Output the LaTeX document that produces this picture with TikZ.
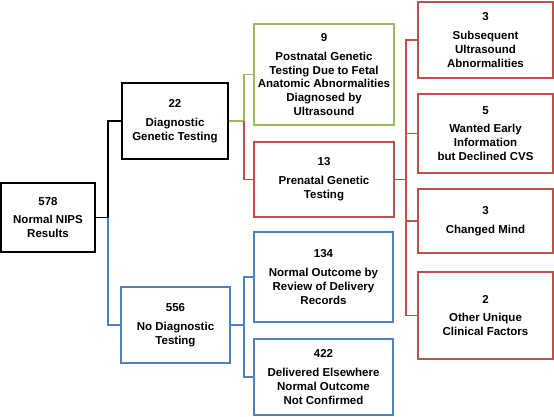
\documentclass[tikz,border=0pt]{standalone}
\usepackage{fontspec}
\setmainfont{Liberation Sans}
\definecolor{cgreen}{HTML}{9BBB59}
\definecolor{cred}{HTML}{C0504D}
\definecolor{cblue}{HTML}{4F81BD}
\begin{document}
\begin{tikzpicture}[x=1pt,y=-1pt,
  box/.style={draw=#1,line width=1.6pt,align=center,inner sep=0pt,
    font=\fontsize{11.5}{13.8}\selectfont\bfseries,text=black},
  conn/.style={line width=1.6pt}]
\useasboundingbox (0,0) rectangle (554,417);
\node[box=black,minimum width=94pt,minimum height=69pt] (n578) at (48,217.5) {578\\[5pt]Normal NIPS\\Results};
\node[box=black,minimum width=106pt,minimum height=76pt] (n22) at (175,121) {22\\[5pt]Diagnostic\\Genetic Testing};
\node[box=cgreen,minimum width=140pt,minimum height=101pt] (n9) at (324,74.5) {9\\[5pt]Postnatal Genetic\\Testing Due to Fetal\\Anatomic Abnormalities\\Diagnosed by\\Ultrasound};
\node[box=cred,minimum width=140pt,minimum height=75pt] (n13) at (324,179.5) {13\\[5pt]Prenatal Genetic\\Testing};
\node[box=cred,minimum width=135pt,minimum height=76pt] (r1) at (485.5,40) {3\\[5pt]Subsequent\\Ultrasound\\Abnormalities};
\node[box=cred,minimum width=135pt,minimum height=79pt] (r2) at (485.5,133.5) {5\\[5pt]Wanted Early\\Information\\but Declined CVS};
\node[box=cred,minimum width=135pt,minimum height=64pt] (r3) at (485.5,221) {3\\[5pt]Changed Mind};
\node[box=cred,minimum width=135pt,minimum height=87pt] (r4) at (485.5,315.5) {2\\[5pt]Other Unique\\Clinical Factors};
\node[box=cblue,minimum width=109pt,minimum height=76pt] (n556) at (175.5,325) {556\\[5pt]No Diagnostic\\Testing};
\node[box=cblue,minimum width=139pt,minimum height=90pt] (n134) at (323.5,277) {134\\[5pt]Normal Outcome by\\Review of Delivery\\Records};
\node[box=cblue,minimum width=139pt,minimum height=76pt] (n422) at (323.5,377) {422\\[5pt]Delivered Elsewhere\\Normal Outcome\\Not Confirmed};
% connectors
\draw[conn,black] (n578.east) -- ++(12,0) coordinate (j1);
\draw[conn,black] (j1) |- (n22.west);
\draw[conn,cblue] (j1) |- (n556.west);
\draw[conn,cgreen] (n22.east) -- ++(15,0) coordinate (j2);
\draw[conn,cgreen] (j2) |- (n9.west);
\draw[conn,cred] (j2) |- (n13.west);
\draw[conn,cred] (n13.east) -- ++(11,0) coordinate (j3);
\draw[conn,cred] (j3) |- (r1.west);
\draw[conn,cred] (j3) |- (r2.west);
\draw[conn,cred] (j3) |- (r3.west);
\draw[conn,cred] (j3) |- (r4.west);
\draw[conn,cblue] (n556.east) -- ++(13,0) coordinate (j4);
\draw[conn,cblue] (j4) |- (n134.west);
\draw[conn,cblue] (j4) |- (n422.west);
\end{tikzpicture}
\end{document}
